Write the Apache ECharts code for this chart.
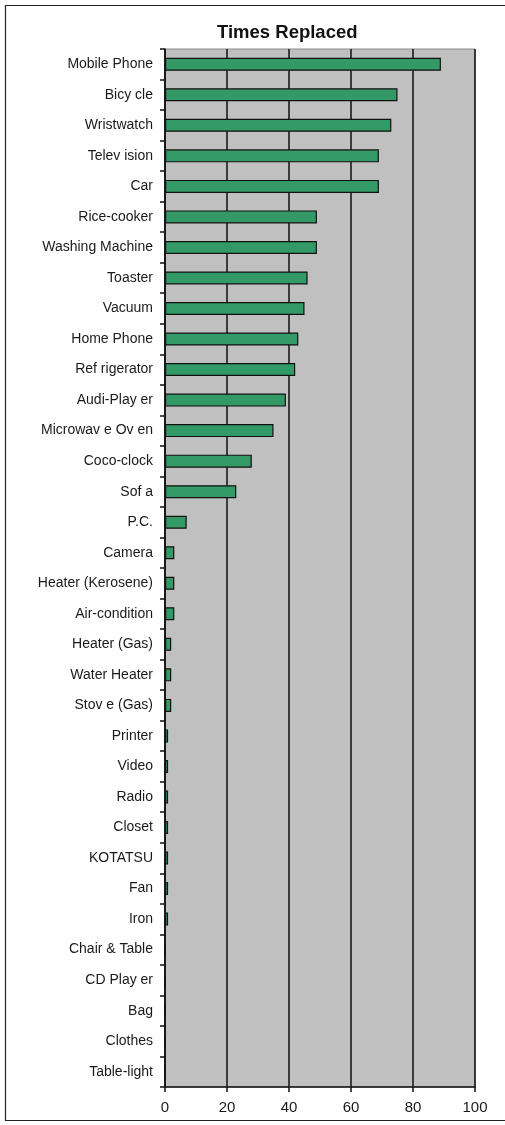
<!DOCTYPE html>
<html>
<head>
<meta charset="utf-8">
<script src="https://cdn.jsdelivr.net/npm/echarts@6/dist/echarts.min.js"></script>
<style>
  html, body { margin: 0; padding: 0; background: #ffffff; }
  #chart { width: 505px; height: 1125px; }
</style>
</head>
<body>
<div id="chart"></div>
<script>
// Items, listed from most to least often replaced
const categories = [
  'Mobile Phone', 'Bicy cle', 'Wristwatch', 'Telev ision', 'Car', 'Rice-cooker',
  'Washing Machine', 'Toaster', 'Vacuum', 'Home Phone', 'Ref rigerator',
  'Audi-Play er', 'Microwav e Ov en', 'Coco-clock', 'Sof a', 'P.C.', 'Camera',
  'Heater (Kerosene)', 'Air-condition', 'Heater (Gas)', 'Water Heater',
  'Stov e (Gas)', 'Printer', 'Video', 'Radio', 'Closet', 'KOTATSU', 'Fan',
  'Iron', 'Chair & Table', 'CD Play er', 'Bag', 'Clothes', 'Table-light'
];

// Number of times each item was replaced
const timesReplaced = [
  89, 75, 73, 69, 69, 49,
  49, 46, 45, 43, 42,
  39, 35, 28, 23, 7, 3,
  3, 3, 2, 2,
  2, 1, 1, 1, 1, 1, 1,
  1, 0, 0, 0, 0, 0
];

// Value axis tick marks
const axisMin = 0;
const axisMax = 100;
const axisStep = 20;

const chart = echarts.init(document.getElementById('chart'), null, { renderer: 'canvas' });

const labelFont = 'Liberation Sans, Arial, sans-serif';

chart.setOption({
  animation: false,
  backgroundColor: '#ffffff',
  title: {
    text: 'Times Replaced',
    left: 217,
    top: 23,
    padding: 0,
    textStyle: {
      fontFamily: labelFont,
      fontSize: 18.5,
      fontWeight: 'bold',
      color: '#111111'
    }
  },
  graphic: [
    {
      type: 'rect',
      shape: { x: 5.5, y: 5.5, width: 520, height: 1115 },
      style: { fill: null, stroke: '#222222', lineWidth: 1.2 },
      silent: true,
      z: 100
    }
  ],
  grid: {
    left: 165,
    right: 30,
    top: 49,
    bottom: 38,
    show: true,
    backgroundColor: '#c0c0c0',
    borderColor: '#8c8c8c',
    borderWidth: 1
  },
  xAxis: {
    type: 'value',
    min: axisMin,
    max: axisMax,
    interval: axisStep,
    axisLine: { show: true, lineStyle: { color: '#111111', width: 1.5 } },
    axisTick: { show: true, length: 5, lineStyle: { color: '#111111', width: 1.5 } },
    axisLabel: {
      margin: 13,
      fontFamily: labelFont,
      fontSize: 15,
      color: '#1a1a1a'
    },
    splitLine: { show: true, lineStyle: { color: '#111111', width: 1.5 } }
  },
  yAxis: {
    type: 'category',
    data: categories,
    inverse: true,
    axisLine: { show: true, lineStyle: { color: '#111111', width: 1.5 } },
    axisTick: { show: true, length: 5, alignWithLabel: false, lineStyle: { color: '#111111', width: 1.5 } },
    axisLabel: {
      margin: 12,
      fontFamily: labelFont,
      fontSize: 14,
      color: '#1a1a1a',
      interval: 0
    },
    splitLine: { show: false }
  },
  series: [
    {
      type: 'bar',
      data: timesReplaced,
      barWidth: 13,
      itemStyle: {
        color: '#339966',
        borderColor: '#111111',
        borderWidth: 1.2
      }
    }
  ]
});
</script>
</body>
</html>
